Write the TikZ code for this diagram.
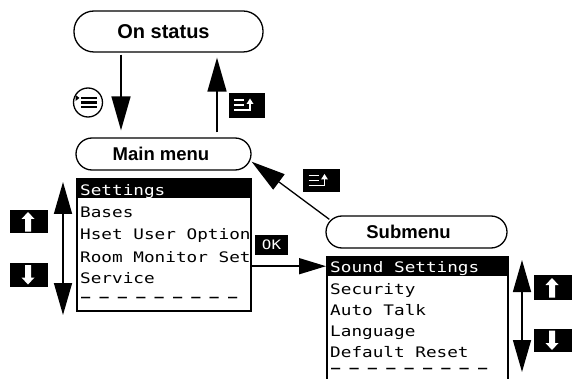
\documentclass[tikz,border=0pt]{standalone}
\usepackage{fontspec}
\usetikzlibrary{arrows.meta,calc}
\newfontfamily\lblfont{Liberation Sans}
\newfontfamily\lcdfont[FakeStretch=1.22]{DejaVu Sans Mono}
\begin{document}
\begin{tikzpicture}[x=1pt,y=-1pt,
  pill/.style={draw, line width=1.3pt, rounded corners=#1, inner sep=0,
    font=\lblfont\bfseries\fontsize{18.5}{22}\selectfont},
  listbox/.style={draw, line width=1.6pt, inner sep=0},
  hlbar/.style={fill=black, inner sep=0},
  lcd/.style={font=\lcdfont\fontsize{14.5}{14.5}\selectfont, inner sep=0, anchor=base west},
  dashrow/.style={font=\lcdfont\bfseries\fontsize{12.5}{12.5}\selectfont, inner sep=0, anchor=base west},
  icbox/.style={fill=black, inner sep=0},
  bigarr/.style={line width=1.6pt, -{Triangle[length=34pt,width=19pt]}},
  okarr/.style={line width=1.6pt, -{Triangle[length=27pt,width=16pt]}},
  dblarr/.style={line width=1.6pt, {Triangle[length=32pt,width=18pt]}-{Triangle[length=32pt,width=18pt]}},
  whiteup/.pic={\fill[white] (-1,-9.5) -- (5.5,-2.5) -- (2,-2.5) -- (2,10) -- (-4,10) -- (-4,-2.5) -- (-7.5,-2.5) -- cycle;},
  whitedown/.pic={\fill[white] (-1,9.5) -- (5.5,2.5) -- (2,2.5) -- (2,-10) -- (-4,-10) -- (-4,2.5) -- (-7.5,2.5) -- cycle;},
  backglyph/.pic={\draw[white, line width=1.8pt] (-13,-5.5) -- (-3,-5.5) (-13,-0.5) -- (-3,-0.5) (-13,4.5) -- (3,4.5) -- (3,-1.5);
    \fill[white] (3,-7) -- (6.5,-1.5) -- (-0.5,-1.5) -- cycle;},
  menuglyph/.pic={\draw[line width=2.4pt] (-7,-4.5) -- (9,-4.5) (-7,0) -- (9,0) (-7,4.5) -- (9,4.5);
    \fill (-12.5,-7.5) -- (-8.5,-4.5) -- (-12.5,-1.5) -- cycle;}
]
\useasboundingbox (0,0) rectangle (572,379);

% status nodes
\node[pill=20pt, minimum width=189pt, minimum height=41pt,
      font=\lblfont\bfseries\fontsize{20}{24}\selectfont] (os) at (168.5,31.5) {On status\hspace*{10pt}};
\node[pill=16pt, minimum width=175pt, minimum height=32pt] (mm) at (163.5,154) {Main menu\hspace*{5pt}};
\node[pill=16pt, minimum width=181pt, minimum height=32pt] (sub) at (416.5,232) {Submenu\hspace*{16pt}};

% main list
\node[listbox, minimum width=174pt, minimum height=132pt] (ml) at (164,245) {};
\node[hlbar, minimum width=174pt, minimum height=20pt, anchor=north west] (mlbar) at (ml.north west) {};
\node[lcd, text=white] (m1) at (80,196) {Settings};
\node[lcd] (m2) at (80,218) {Bases};
\node[lcd] (m3) at (80,240) {Hset User Option};
\node[lcd] (m4) at (80,262) {Room Monitor Set};
\node[lcd] (m5) at (80,283.5) {Service};
\node[dashrow] (m6) at (81,301) {– – – – – – – – –};

% sub list
\node[listbox, minimum width=181pt, minimum height=128pt, anchor=north west] (sl) at (326,256) {};
\node[hlbar, minimum width=181pt, minimum height=20pt, anchor=north west] (slbar) at (sl.north west) {};
\node[lcd, text=white] (s1) at (330,272) {Sound Settings};
\node[lcd] (s2) at (330,294) {Security};
\node[lcd] (s3) at (330,315) {Auto Talk};
\node[lcd] (s4) at (330,336) {Language};
\node[lcd] (s5) at (330,357) {Default Reset};
\node[dashrow] (s6) at (331,372) {– – – – – – – – –};

% icons
\node[circle, draw, line width=1.3pt, minimum size=29pt, inner sep=0] (menuic) at (88,102.5) {};
\pic at (menuic) {menuglyph};
\node[icbox, minimum width=36pt, minimum height=25pt] (back1) at (247,105.5) {};
\pic at (back1) {backglyph};
\node[icbox, minimum width=37pt, minimum height=23pt] (back2) at (321.5,181) {};
\pic at (back2) {backglyph};
\node[icbox, minimum width=38pt, minimum height=23pt] (upL) at (29,221.5) {};
\pic at (upL) {whiteup};
\node[icbox, minimum width=38pt, minimum height=24pt] (dnL) at (29,275) {};
\pic at (dnL) {whitedown};
\node[icbox, minimum width=38pt, minimum height=25pt] (upR) at (553,287.5) {};
\pic at (upR) {whiteup};
\node[icbox, minimum width=38pt, minimum height=23pt] (dnR) at (553,340.5) {};
\pic at (dnR) {whitedown};
\node[icbox, minimum width=33pt, minimum height=20pt, text=white,
      font=\lcdfont\fontsize{13}{13}\selectfont] (ok) at (271.5,245) {OK};

% connectors
\draw[bigarr, shorten <=2pt, shorten >=7pt] ([xshift=-47.5pt]os.south) -- ([xshift=-42.5pt]mm.north);
\draw[bigarr, shorten <=5pt, shorten >=5pt] ([xshift=53.5pt]mm.north) -- ([xshift=48.5pt]os.south);
\draw[bigarr, line width=1.3pt] ($(sub.north west)+(4,4)$) -- (mm.-5);
\draw[okarr] (ml.east |- slbar) -- (slbar.west);
\coordinate (la1) at (63,182);
\coordinate (la2) at (63,315);
\draw[dblarr] (la1) -- (la2);
\coordinate (ra1) at (522,260);
\coordinate (ra2) at (522,372);
\draw[dblarr] (ra1) -- (ra2);
\end{tikzpicture}
\end{document}
